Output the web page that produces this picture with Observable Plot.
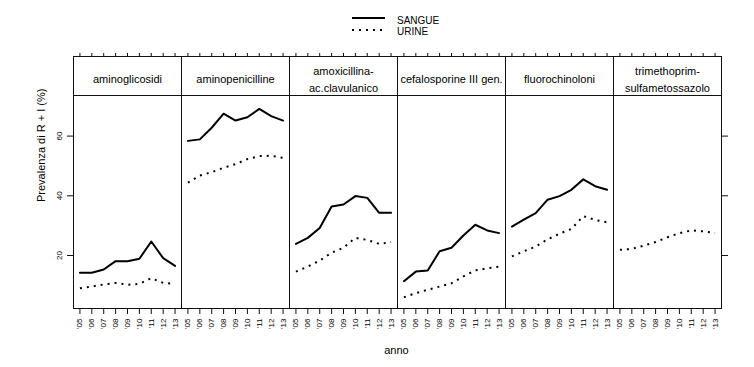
<!DOCTYPE html>
<html>
<head>
<meta charset="utf-8">
<script src="https://cdn.jsdelivr.net/npm/d3@7"></script>
<script src="https://cdn.jsdelivr.net/npm/@observablehq/plot@0.6"></script>
<style>
  body { margin: 0; background: #fff; }
  #chart svg { display: block; }
  #legend { display: block; }
</style>
</head>
<body>
<div id="chart"></div>
<script>
const FONT = '"Liberation Sans", Arial, sans-serif';

const categories = ["aminoglicosidi", "aminopenicilline", "amoxicillina", "cefalosporine", "fluorochinoloni", "trimethoprim"];
const stripLabels = ["aminoglicosidi", "aminopenicilline", "amoxicillina-\nac.clavulanico", "cefalosporine III gen.", "fluorochinoloni", "trimethoprim-\nsulfametossazolo"];
const years = [2005, 2006, 2007, 2008, 2009, 2010, 2011, 2012, 2013];
const seriesNames = ["SANGUE", "URINE"];
const yTicks = [20, 40, 60];

const aminoglicosidiSangue   = [14.2, 14.2, 15.3, 18.1, 18.1, 18.9, 24.7, 19.1, 16.5];
const aminopenicillineSangue = [58.4, 58.9, 62.8, 67.5, 65.2, 66.3, 69.1, 66.7, 65.2];
const amoxicillinaSangue     = [23.9, 25.9, 29.2, 36.4, 37.1, 39.9, 39.3, 34.3, 34.3];
const cefalosporineSangue    = [11.4, 14.6, 15.0, 21.4, 22.6, 26.7, 30.3, 28.4, 27.5];
const fluorochinoloniSangue  = [29.7, 32.0, 34.2, 38.7, 39.9, 42.0, 45.5, 43.2, 42.0];
const trimethoprimSangue     = [];

const aminoglicosidiUrine    = [9.0, 9.6, 10.3, 10.8, 10.2, 10.5, 12.4, 10.8, 10.5];
const aminopenicillineUrine  = [44.4, 46.8, 47.9, 49.4, 50.6, 52.3, 53.3, 53.4, 52.7];
const amoxicillinaUrine      = [14.6, 16.3, 18.3, 20.9, 22.6, 25.9, 25.2, 23.9, 24.5];
const cefalosporineUrine     = [6.0, 7.4, 8.5, 9.6, 10.7, 13.0, 15.0, 15.7, 16.3];
const fluorochinoloniUrine   = [19.7, 21.4, 23.0, 25.4, 27.3, 28.9, 33.2, 31.9, 31.1];
const trimethoprimUrine      = [21.9, 22.2, 23.3, 24.5, 26.1, 27.5, 28.4, 28.1, 27.5];

const sangueByCat = [aminoglicosidiSangue, aminopenicillineSangue, amoxicillinaSangue, cefalosporineSangue, fluorochinoloniSangue, trimethoprimSangue];
const urineByCat  = [aminoglicosidiUrine, aminopenicillineUrine, amoxicillinaUrine, cefalosporineUrine, fluorochinoloniUrine, trimethoprimUrine];

const rows = [];
categories.forEach((c, ci) => {
  [sangueByCat[ci], urineByCat[ci]].forEach((vals, si) => {
    vals.forEach((v, i) => rows.push({cat: c, series: seriesNames[si], year: years[i], value: v}));
  });
});

const yDomain = [2.24, 73.6];
const xDomain = [2004.46, 2013.54];

// Legend
const legend = d3.select("#chart").append("svg")
  .attr("id", "legend").attr("width", 754).attr("height", 40)
  .style("font-family", FONT);
const lx0 = 352, lx1 = 385;
legend.append("line").attr("x1", lx0).attr("x2", lx1).attr("y1", 18).attr("y2", 18)
  .attr("stroke", "#000").attr("stroke-width", 2);
legend.append("line").attr("x1", lx0).attr("x2", lx1).attr("y1", 30).attr("y2", 30)
  .attr("stroke", "#000").attr("stroke-width", 2).attr("stroke-dasharray", "2,5");
seriesNames.forEach((s, i) => {
  legend.append("text").attr("x", 397).attr("y", 20 + i * 11).attr("dy", "0.35em")
    .attr("font-size", 10).attr("fill", "#000").text(s);
});

const plot = Plot.plot({
  width: 754,
  height: 327,
  marginTop: 16,
  marginBottom: 59,
  marginLeft: 70,
  marginRight: 31,
  style: {fontFamily: FONT, fontSize: "8px", color: "#000", background: "#fff"},
  fx: {domain: categories, padding: 0, axis: null},
  x: {domain: xDomain},
  y: {domain: yDomain, range: [268, 55]},
  marks: [
    Plot.ruleY([yDomain[1]], {stroke: "#111", strokeWidth: 1}),
    Plot.line(rows.filter(d => d.series === "SANGUE"), {x: "year", y: "value", fx: "cat", stroke: "#000", strokeWidth: 2}),
    Plot.line(rows.filter(d => d.series === "URINE"), {x: "year", y: "value", fx: "cat", stroke: "#000", strokeWidth: 2, strokeDasharray: "2,5", strokeLinecap: "butt"}),
    Plot.frame({stroke: "#111", strokeWidth: 1}),
    Plot.text(categories, {fx: d => d, text: (d, i) => stripLabels[i], frameAnchor: "top", lineAnchor: "middle", dy: 21.5, fontSize: 11, lineHeight: 1.5, fill: "#000", ariaLabel: "strip"}),
    Plot.axisY(yTicks, {anchor: "left", tickSize: 6, tickRotate: -90, tickPadding: 6, fontSize: 8, label: null, stroke: "#111"}),
    Plot.axisY(yTicks, {anchor: "right", tickSize: 6, tickFormat: () => "", label: null, stroke: "#111"}),
    Plot.axisX(years, {anchor: "top", tickSize: 4, tickFormat: () => "", label: null, stroke: "#111"}),
    Plot.axisX(years, {anchor: "bottom", tickSize: 6, tickRotate: -90, tickPadding: 4, tickFormat: d => "'" + String(d).slice(2), fontSize: 8, label: null, stroke: "#111"}),
    Plot.text(["Prevalenza di R + I (%)"], {fx: [categories[0]], y: [(yDomain[0] + yDomain[1]) / 2], text: d => d, frameAnchor: "left", dx: -32, rotate: -90, fontSize: 11, fill: "#000"})
  ]
});
document.getElementById("chart").appendChild(plot);

// x label
d3.select(plot).append("text")
  .attr("x", (70 + (754 - 31)) / 2).attr("y", 350 - 40).attr("dy", "0.35em")
  .attr("text-anchor", "middle").attr("font-size", 11).attr("fill", "#000")
  .style("font-family", FONT).text("anno");

// left-align multi-line strip labels while centring the block
d3.select(plot).selectAll('g[aria-label="strip"] text').each(function() {
  const tspans = this.querySelectorAll("tspan");
  if (tspans.length > 1) {
    let w = 0;
    tspans.forEach(t => { w = Math.max(w, t.getComputedTextLength()); });
    this.setAttribute("text-anchor", "start");
    tspans.forEach(t => t.setAttribute("x", -w / 2));
  }
});
</script>
</body>
</html>
